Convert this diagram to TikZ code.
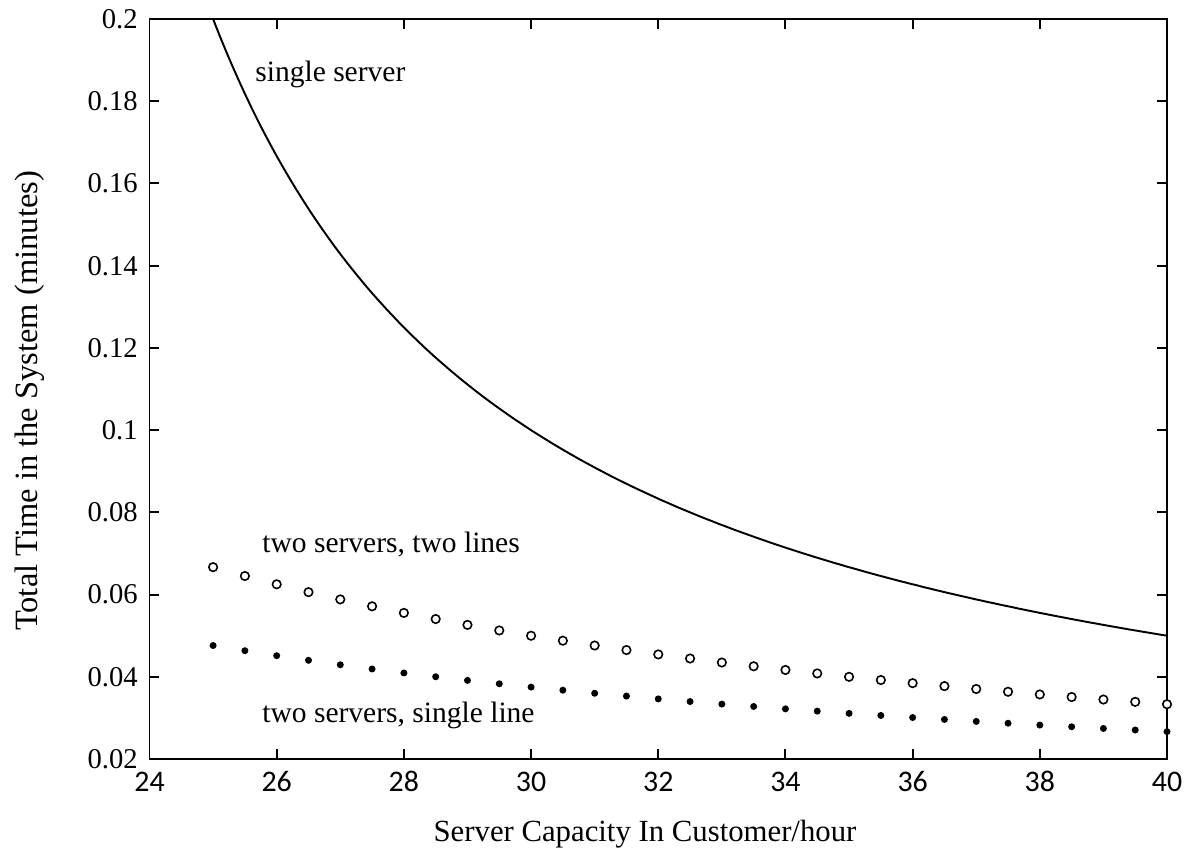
\documentclass[tikz,border=0pt]{standalone}
\usepackage{fontspec}
\setmainfont{Liberation Serif}
\newfontfamily\xtickfont{Carlito}
\usetikzlibrary{calc,positioning}

\begin{document}
\begin{tikzpicture}[font=\fontsize{16.3}{19}\selectfont]

\tikzset{axisline/.style={line width=1.1pt,black},
ticknode/.style={inner sep=0pt},
curveline/.style={line width=1.1pt,black},
circmark/.style={shape=circle,draw=black,line width=0.9pt,fill=white,inner sep=0pt,minimum size=1.7mm},
dotmark/.style={shape=circle,fill=black,inner sep=0pt,minimum size=1.4mm},
curvelabel/.style={font=\fontsize{16.8}{20}\selectfont,inner sep=0pt,anchor=base west},
axislabel/.style={font=\fontsize{17.5}{21}\selectfont,inner sep=0pt,anchor=base}}

\useasboundingbox (0,0) rectangle (23.72,17.06);

\begin{scope}[shift={(2.99cm,1.88cm)},x=1.2719cm,y=82.22cm]

% Axis box
\coordinate (corner) at (0,0);
\coordinate (topright) at (16,0.18);
\draw[axisline] (corner) rectangle (topright);

% tick marks, inward on all four sides
\foreach \xv in {24,26,...,40} {
  \draw[axisline] ({\xv-24},0) -- ++(0,0.0024);
  \draw[axisline] ({\xv-24},0.18) -- ++(0,-0.0024);
  \node[ticknode,font=\xtickfont\fontsize{17}{20}\selectfont] (xt\xv) at ({\xv-24},-0.0055) {\xv};
}
\foreach \yv/\ylab [count=\i] in {0.02/0.02,0.04/0.04,0.06/0.06,0.08/0.08,0.1/0.1,0.12/0.12,0.14/0.14,0.16/0.16,0.18/0.18,0.2/0.2} {
  \draw[axisline] (0,{\yv-0.02}) -- ++(0.157,0);
  \draw[axisline] (16,{\yv-0.02}) -- ++(-0.157,0);
  \node[ticknode,anchor=east] (yt\i) at (-0.18,{\yv-0.02}) {\ylab};
}

% single server curve
\draw[curveline] plot[domain=25:40,samples=150] ({\x-24},{1/(\x-20)-0.02});

% two servers, two lines
\foreach \m [count=\i] in {25,25.5,...,40} \node[circmark] (c\i) at ({\m-24},{1/(\m-10)-0.02}) {};

% two servers, single line
\foreach \m [count=\i] in {25,25.5,...,40} \node[dotmark] (d\i) at ({\m-24},{\m/(\m*\m-100)-0.02}) {};

\end{scope}

% Curve labels
\node[curvelabel] (lsingle) at (5.10,15.42) {single server};
\node[curvelabel] (ltwolines) at (5.24,6.00) {two servers, two lines};
\node[curvelabel] (lsingleline) at (5.24,2.60) {two servers, single line};

% Axis labels
\node[axislabel] (xlabel) at (12.90,0.22) {Server Capacity In Customer/hour};
\node[axislabel,rotate=90,font=\fontsize{18.5}{22}\selectfont] (ylabel) at (0.74,9.04) {Total Time in the System (minutes)};

\end{tikzpicture}
\end{document}
